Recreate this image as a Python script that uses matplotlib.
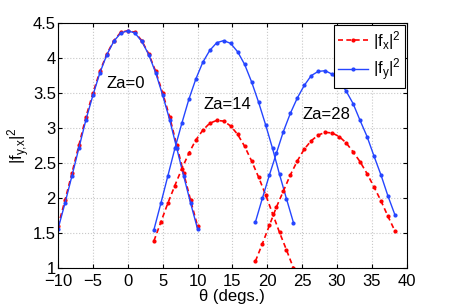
import matplotlib
matplotlib.use('Agg')
import matplotlib.pyplot as plt

plt.rcParams['font.family'] = ['Liberation Sans', 'DejaVu Sans']

# theta positions (degs.) for each Za case
theta_za0 = [-10, -9, -8, -7, -6, -5, -4, -3, -2, -1, 0,
             1, 2, 3, 4, 5, 6, 7, 8, 9, 10]
theta_za14 = [3.75, 4.75, 5.75, 6.75, 7.75, 8.75, 9.75, 10.75, 11.75, 12.75, 13.75,
              14.75, 15.75, 16.75, 17.75, 18.75, 19.75, 20.75, 21.75, 22.75, 23.75]
theta_za28 = [18.3, 19.3, 20.3, 21.3, 22.3, 23.3, 24.3, 25.3, 26.3, 27.3, 28.3,
              29.3, 30.3, 31.3, 32.3, 33.3, 34.3, 35.3, 36.3, 37.3, 38.3]

# |f_x|^2
fx_za0 = [1.60, 1.97, 2.36, 2.76, 3.16, 3.50, 3.81, 4.06, 4.25, 4.37, 4.39,
          4.37, 4.25, 4.06, 3.81, 3.50, 3.16, 2.76, 2.36, 1.97, 1.60]
fx_za14 = [1.39, 1.66, 1.93, 2.18, 2.42, 2.64, 2.83, 2.97, 3.07, 3.11, 3.10,
           3.03, 2.91, 2.74, 2.53, 2.30, 2.05, 1.78, 1.51, 1.26, 1.00]
fx_za28 = [1.10, 1.35, 1.61, 1.87, 2.10, 2.33, 2.53, 2.70, 2.82, 2.90, 2.94,
           2.93, 2.88, 2.79, 2.66, 2.52, 2.35, 2.16, 1.96, 1.74, 1.53]

# |f_y|^2
fy_za0 = [1.56, 1.93, 2.32, 2.72, 3.12, 3.47, 3.79, 4.05, 4.24, 4.36, 4.39,
          4.36, 4.24, 4.05, 3.79, 3.47, 3.12, 2.72, 2.32, 1.93, 1.56]
fy_za14 = [1.55, 1.93, 2.32, 2.71, 3.07, 3.41, 3.70, 3.94, 4.11, 4.22, 4.25,
           4.21, 4.09, 3.91, 3.66, 3.37, 3.05, 2.71, 2.34, 1.99, 1.65]
fy_za28 = [1.66, 2.00, 2.33, 2.64, 2.95, 3.21, 3.43, 3.61, 3.75, 3.81, 3.82,
           3.77, 3.67, 3.53, 3.35, 3.11, 2.88, 2.60, 2.33, 2.03, 1.76]

za_labels = ['Za=0', 'Za=14', 'Za=28']
za_label_pos = [(-3.0, 3.64), (10.8, 3.34), (25.1, 3.20)]

xticks = [-10, -5, 0, 5, 10, 15, 20, 25, 30, 35, 40]
yticks = [1, 1.5, 2, 2.5, 3, 3.5, 4, 4.5]
ytick_labels = ['1', '1.5', '2', '2.5', '3', '3.5', '4', '4.5']

red = '#ff0000'
blue = '#2545ff'
fs = 12

fig = plt.figure(figsize=(4.5, 3.04), dpi=100)
ax = fig.add_axes([0.129, 0.118, 0.775, 0.806])

thetas = [theta_za0, theta_za14, theta_za28]
fxs = [fx_za0, fx_za14, fx_za28]
fys = [fy_za0, fy_za14, fy_za28]

for i, (th, fx, fy) in enumerate(zip(thetas, fxs, fys)):
    ax.plot(th, fx, color=red, linestyle=(0, (3, 2)), linewidth=1.2, marker='.', markersize=4,
            label=r'$\mathregular{|f_x|^2}$' if i == 0 else None)
    ax.plot(th, fy, color=blue, linestyle='-', linewidth=1.0, marker='.', markersize=4,
            label=r'$\mathregular{|f_y|^2}$' if i == 0 else None)

for lab, (tx, ty) in zip(za_labels, za_label_pos):
    ax.text(tx, ty, lab, fontsize=fs, ha='left', va='center')

ax.set_xlim(-10, 40)
ax.set_ylim(1, 4.5)
ax.set_xticks(xticks)
ax.set_xticklabels([str(t).replace('-', '\u2212') for t in xticks])
ax.set_yticks(yticks)
ax.set_yticklabels(ytick_labels)
ax.tick_params(direction='in', top=True, right=True, labelsize=fs, length=3)
ax.tick_params(axis='x', pad=4)
ax.tick_params(axis='y', pad=1.5)
ax.grid(True, linestyle=':', color='#c8c8c8', linewidth=0.8)
for s in ax.spines.values():
    s.set_linewidth(0.8)

ax.set_xlabel('\u03b8 (degs.)', fontsize=fs, labelpad=0.5)
ax.set_ylabel(r'$\mathregular{|f_{y{,}x}|^2}$', fontsize=fs)
ax.yaxis.set_label_coords(-0.075, 0.5)

leg = ax.legend(loc='upper right', fontsize=fs, fancybox=False, framealpha=1,
                edgecolor='black', borderaxespad=0.1, handlelength=1.8, borderpad=0.25,
                labelspacing=0.3, handletextpad=0.3)
leg.get_frame().set_linewidth(0.8)

fig.savefig('out.png', dpi=100)
